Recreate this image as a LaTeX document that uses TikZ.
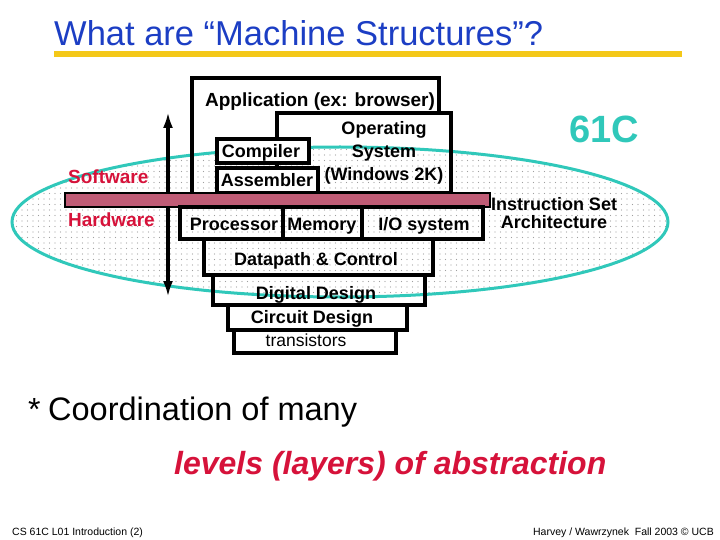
\documentclass[tikz,border=0pt]{standalone}
\usepackage{fontspec}
\setmainfont{Liberation Sans}
\setsansfont{Liberation Sans}
\usepackage{tikz}
\usetikzlibrary{arrows.meta, positioning, patterns.meta}
\tikzset{every node/.style={font=\sffamily}}
\usepackage{xcolor}
\definecolor{titleblue}{RGB}{28,62,196}
\definecolor{swred}{RGB}{214,18,58}
\definecolor{teal61}{RGB}{48,200,186}
\definecolor{rulegold}{RGB}{244,200,24}
\definecolor{isapink}{RGB}{192,92,118}

\begin{document}
\begin{tikzpicture}[x=1pt, y=-1pt,
    layer/.style={draw, line width=3.2pt, inner sep=0pt, outer sep=0pt},
    lvl/.style={font=\sffamily\bfseries\fontsize{18}{17.5}\selectfont, inner sep=0pt},
    side/.style={font=\sffamily\bfseries\fontsize{19}{22}\selectfont, text=swred, inner sep=0pt, anchor=base west},
    foot/.style={font=\sffamily\fontsize{10.5}{12}\selectfont, inner sep=0pt}]
  \useasboundingbox (0,0) rectangle (720,540);

  % title and rule
  \node[anchor=base west, inner sep=0pt, text=titleblue, font=\sffamily\fontsize{34.5}{40}\selectfont] (title) at (54,46) {What are “Machine Structures”?};
  \fill[rulegold] (54,51) rectangle (682,57);

  % the 61C ellipse
  \draw[teal61, line width=3pt, pattern={Dots[distance=5.5pt, radius=0.6pt]}, pattern color=gray!75] (340,222) ellipse [x radius=328, y radius=75];

  % software/hardware arrow
  \coordinate (swtop) at (168,112);
  \coordinate (hwbot) at (168,297);
  \draw[{Latex[length=16pt, width=10pt]}-{Latex[length=16pt, width=10pt]}, line width=3.4pt] (swtop) -- (hwbot);

  % software layers
  \node[inner sep=0pt, outer sep=0pt, minimum width=247pt, minimum height=115pt] (app) at (315.5,135.5) {};
  \node[layer, minimum width=174pt, minimum height=80pt] (os) at (364,153) {};
  \draw[line width=3.2pt] (app.south west) -- (app.north west) -- (app.north east) -- (app.north east |- os.north);
  \node[layer, fill=white, minimum width=92pt, minimum height=24pt] (comp) at (263,151) {};
  \node[layer, fill=white, minimum width=101pt, minimum height=25pt] (asm) at (267.5,180.5) {};

  % instruction set architecture
  \node[draw, line width=1.6pt, fill=isapink, inner sep=0pt, minimum width=425pt, minimum height=14pt] (isa) at (277.5,200) {};

  % hardware layers
  \node[layer, minimum width=103pt, minimum height=32pt] (proc) at (231.5,223) {};
  \node[layer, minimum width=79pt, minimum height=32pt, right=0pt of proc] (mem) {};
  \node[layer, minimum width=121pt, minimum height=32pt, right=0pt of mem] (io) {};
  \node[layer, minimum width=229pt, minimum height=36pt] (dp) at (318.5,257) {};
  \node[layer, minimum width=212pt, minimum height=30pt] (dig) at (319,290) {};
  \node[layer, minimum width=179pt, minimum height=25pt] (circ) at (317.5,317.5) {};
  \node[layer, minimum width=162pt, minimum height=23pt] (trans) at (315,341.5) {};

  % layer texts
  \node[lvl, anchor=base, font=\sffamily\bfseries\fontsize{19}{22}\selectfont] (apptxt) at (320,107) {Application (ex: browser)};
  \node[lvl, anchor=north, align=center, font=\sffamily\bfseries\fontsize{18}{23}\selectfont] (ostxt) at (384,121) {Operating\\System\\(Windows 2K)};
  \node[lvl, anchor=base] (comptxt) at (261,158) {Compiler};
  \node[lvl, anchor=base] (asmtxt) at (267,187) {Assembler};
  \node[lvl, anchor=base] (proctxt) at (234,230) {Processor};
  \node[lvl, anchor=base] (memtxt) at (322,230) {Memory};
  \node[lvl, anchor=base] (iotxt) at (424,230) {I/O system};
  \node[lvl, anchor=base] (dptxt) at (316,265) {Datapath \& Control};
  \node[lvl, anchor=base] (digtxt) at (316,299) {Digital Design};
  \node[lvl, anchor=base] (circtxt) at (312,323) {Circuit Design};
  \node[lvl, anchor=base, font=\sffamily\fontsize{17.5}{20}\selectfont] (transtxt) at (306,346) {transistors};

  % side labels
  \node[side] (sw) at (68,184) {Software};
  \node[side] (hw) at (68,226) {Hardware};
  \node[lvl, align=center] (isatxt) at (554,213) {Instruction Set\\Architecture};
  \node[anchor=base, inner sep=0pt, text=teal61, font=\sffamily\bfseries\fontsize{38}{40}\selectfont] (c61) at (604,143) {61C};

  % bottom message
  \node[anchor=base west, inner sep=0pt, font=\sffamily\fontsize{32}{36}\selectfont] (star) at (28,420) {*};
  \node[anchor=base west, inner sep=0pt, font=\sffamily\fontsize{32.5}{36}\selectfont] (coord) at (48,420) {Coordination of many};
  \node[anchor=base west, inner sep=0pt, text=swred, font=\sffamily\bfseries\itshape\fontsize{32}{36}\selectfont] (levels) at (174,474) {levels (layers) of abstraction};

  % footer
  \node[foot, anchor=base west] (footl) at (12,535) {CS 61C L01 Introduction (2)};
  \node[foot, anchor=base east] (footr) at (714,535) {Harvey / Wawrzynek\ \ Fall 2003 © UCB};
\end{tikzpicture}
\end{document}
